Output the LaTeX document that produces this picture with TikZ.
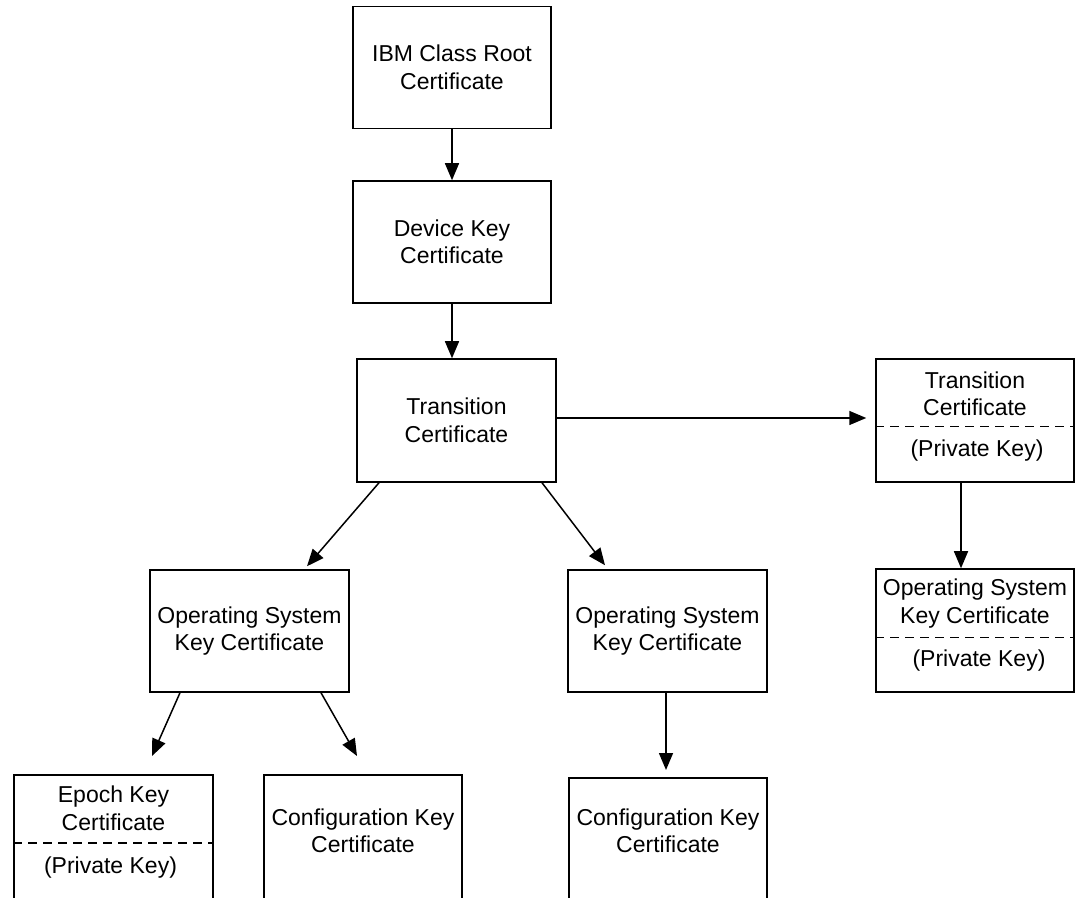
\documentclass[tikz,border=0pt]{standalone}
\usepackage{fontspec}
\setmainfont{Liberation Sans}
\usetikzlibrary{arrows.meta}

\tikzset{
  box/.style={draw=black, line width=1.5pt, minimum width=198pt, minimum height=122pt,
              inner sep=0pt, align=center, font=\fontsize{23pt}{27.5pt}\selectfont},
  openbox/.style={box, minimum height=140pt, anchor=north},
  txt/.style={inner sep=0pt, align=center, font=\fontsize{23pt}{27.5pt}\selectfont},
  divider/.style={line width=1.4pt, dash pattern=on 9pt off 6pt},
  link/.style={line width=1.5pt, -{Triangle[length=17pt,width=14pt]}}
}

\begin{document}
\begin{tikzpicture}[x=1pt, y=1pt]
\useasboundingbox (0,0) rectangle (1081,897);
\clip (0,0) rectangle (1081,897);

% main chain
\node[box] (ibm)   at (452,829.5) {IBM Class Root\\Certificate};
\node[box] (dev)   at (452,655)   {Device Key\\Certificate};
\node[box, minimum width=199pt, minimum height=123pt] (trans) at (456.5,476.5) {Transition\\Certificate};

% second level
\node[box, minimum width=199pt] (los) at (249.5,266) {Operating System\\Key Certificate};
\node[box, minimum width=199pt] (mos) at (667.5,266) {Operating System\\Key Certificate};

% transition certificate with private key
\node[box, minimum height=123pt] (rtrans) at (975,476.5) {};
\node[txt] (rtranst) at ([yshift=-35.5pt]rtrans.north) {Transition\\Certificate};
\node[txt] (rtransk) at ([xshift=2pt,yshift=-92pt]rtrans.north) {(Private Key)};
\draw[divider] ([yshift=-68.5pt]rtrans.north west) -- ([yshift=-68.5pt]rtrans.north east);

% operating system key certificate with private key
\node[box, minimum height=123pt] (ros) at (975,266.5) {};
\node[txt] (rost) at ([yshift=-35.5pt]ros.north) {Operating System\\Key Certificate};
\node[txt] (rosk) at ([xshift=4pt,yshift=-92pt]ros.north) {(Private Key)};
\draw[divider] ([yshift=-69pt]ros.north west) -- ([yshift=-69pt]ros.north east);

% bottom row, running off the lower edge
\node[openbox, minimum width=199pt] (epoch) at (113.5,123) {};
\node[txt] (epocht) at ([yshift=-34.5pt]epoch.north) {Epoch Key\\Certificate};
\node[txt] (epochk) at ([xshift=-3pt,yshift=-93.5pt]epoch.north) {(Private Key)};
\draw[divider] ([yshift=-69pt]epoch.north west) -- ([yshift=-69pt]epoch.north east);

\node[openbox] (conf1) at (363,123) {};
\node[txt] (conf1t) at ([yshift=-57pt]conf1.north) {Configuration Key\\Certificate};

\node[openbox] (conf2) at (668,120) {};
\node[txt] (conf2t) at ([yshift=-54pt]conf2.north) {Configuration Key\\Certificate};

% connectors
\draw[link] (ibm.south) -- (dev.north);
\draw[link] (dev.south) -- (dev.south |- trans.north);
\draw[link, shorten >=9pt] ([yshift=2.5pt]trans.east) -- ([yshift=2.5pt]rtrans.west);
\draw[link] ([xshift=-14pt]rtrans.south) -- ([xshift=-14pt]ros.north);
\draw[link] ([xshift=-77.5pt]trans.south) -- ([xshift=57.5pt,yshift=3pt]los.north);
\draw[link] ([xshift=85.5pt]trans.south) -- ([xshift=-62.5pt,yshift=4pt]mos.north);
\draw[link] ([xshift=-69.5pt]los.south) -- ([xshift=38.5pt,yshift=18pt]epoch.north);
\draw[link] ([xshift=71.5pt]los.south) -- ([xshift=-6pt,yshift=18pt]conf1.north);
\draw[link] ([xshift=-1.5pt]mos.south) -- ([xshift=-2pt,yshift=7pt]conf2.north);
\end{tikzpicture}
\end{document}
